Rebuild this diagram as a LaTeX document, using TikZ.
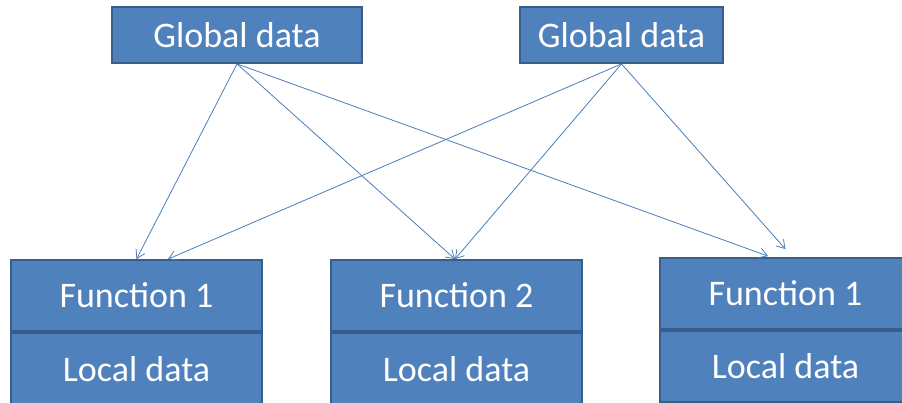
\documentclass[tikz,border=0pt]{standalone}
\usepackage{fontspec}
\setmainfont{Carlito}
\usepackage{tikz}
\usetikzlibrary{arrows.meta,positioning}

\definecolor{boxfill}{HTML}{4F81BD}
\definecolor{boxedge}{HTML}{385D8A}
\definecolor{arrline}{HTML}{4A7EBB}

\begin{document}
\begin{tikzpicture}[
    x=1pt, y=-1pt,
    every node/.style={font=\fontsize{36}{43}\selectfont, text=white},
    globalbox/.style={
      rectangle, draw=boxedge, line width=1.8pt, fill=boxfill,
      minimum height=56pt, inner sep=0pt, align=center
    },
    funcbox/.style={
      rectangle, draw=boxedge, line width=1.8pt, fill=boxfill,
      minimum width=251pt, minimum height=71pt, inner sep=0pt, align=center
    },
    dataarr/.style={-{Straight Barb[length=8pt,width=10pt]}, line width=0.8pt, arrline}
  ]
    \useasboundingbox (0,0) rectangle (902,402);

    % ── Global data (top row) ──
    \node[globalbox, minimum width=250pt] (g1) at (237,35) {Global data};
    \node[globalbox, minimum width=203pt] (g2) at (621.5,35) {Global data};

    % ── Functions with local data (bottom row) ──
    \node[funcbox] (f1) at (136.5,295.5) {Function 1};
    \node[funcbox, below=0pt of f1, minimum height=80pt, text depth=8pt] (l1) {Local data};
    \node[funcbox] (f2) at (456.5,295.5) {Function 2};
    \node[funcbox, below=0pt of f2, minimum height=80pt, text depth=8pt] (l2) {Local data};
    \node[funcbox] (f3) at (785.5,293.5) {Function 1};
    \node[funcbox, below=0pt of f3] (l3) {Local data};

    % ── Access arrows ──
    \draw[dataarr] (g1.south) -- (f1.north);
    \draw[dataarr] (g1.south) -- ([xshift=-1.5pt]f2.north);
    \draw[dataarr] (g1.south) -- ([xshift=-17.5pt,yshift=1pt]f3.north);
    \draw[dataarr] (g2.south) -- ([xshift=31.5pt]f1.north);
    \draw[dataarr] (g2.south) -- ([xshift=-1.5pt]f2.north);
    \draw[dataarr] (g2.south) -- ([yshift=8pt]f3.north);

  \end{tikzpicture}
\end{document}
